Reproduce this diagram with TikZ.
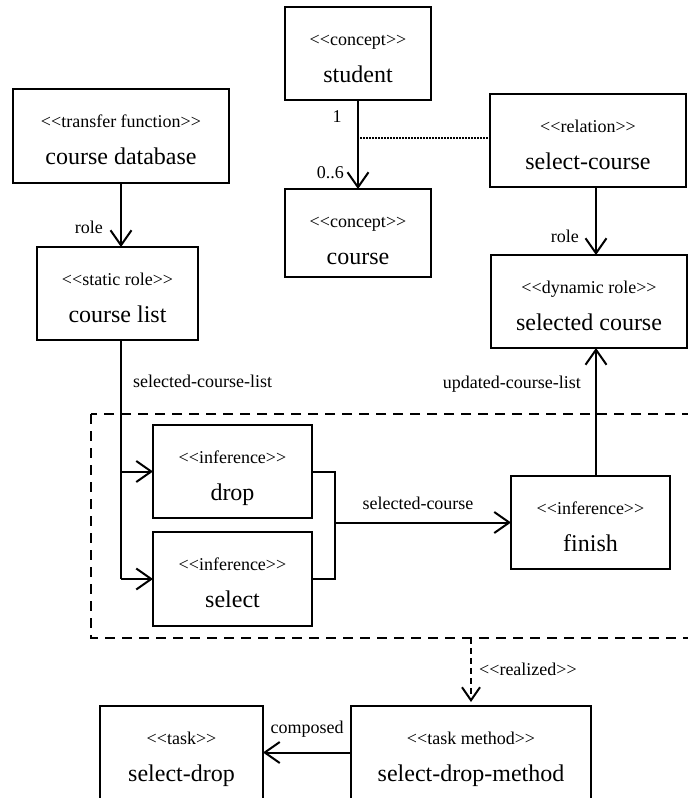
\documentclass[tikz,border=0pt]{standalone}
\usepackage{fontspec}
\setmainfont{Liberation Serif}
\usetikzlibrary{arrows.meta}

% guillemet-free stereotype brackets (kern breaks the << ligature mapping)
\newcommand{\stereotxt}[1]{<\kern0pt<#1>\kern0pt>}

\tikzset{
  umlbox/.style={draw, line width=2pt, rectangle, inner sep=0pt, outer sep=0pt},
  stereofont/.style={font=\fontsize{18}{20}\selectfont, inner sep=0pt},
  namefont/.style={font=\fontsize{24}{28}\selectfont, inner sep=0pt},
  lbl/.style={font=\fontsize{18}{20}\selectfont, inner sep=0pt},
  wire/.style={line width=2pt},
  conn/.style={line width=2pt, -{Straight Barb[length=15pt,width=21pt]}},
  dconn/.style={line width=2pt, dash pattern=on 6pt off 4pt,
                -{Straight Barb[length=13pt,width=18pt]}},
  dotwire/.style={line width=1.5pt, dash pattern=on 1.5pt off 1.5pt},
  dashbox/.style={line width=2pt, dash pattern=on 10pt off 7pt},
}

% \umlbox{name}{x1}{y1}{x2}{y2}{stereotype}{title}
\newcommand{\umlbox}[7]{%
  \node[umlbox, minimum width={(#4-#2)*1pt}, minimum height={(#5-#3)*1pt}]
    (#1) at ({(#2+#4)/2},{(#3+#5)/2}) {};
  \node[stereofont, anchor=base] (#1-st) at ({(#2+#4)/2},{#3+38}) {\stereotxt{#6}};
  \node[namefont, anchor=base] (#1-nm) at ({(#2+#4)/2},{#3+75}) {#7};
}

\begin{document}
\begin{tikzpicture}[x=1pt, y=-1pt]
  \path[use as bounding box] (0,0) rectangle (688,798);
  \fill[white] (0,0) rectangle (688,798);
  \begin{scope}
    \clip (0,0) rectangle (688,798);

    % boxes
    \umlbox{stu}{285}{7}{431}{100}{concept}{student}
    \umlbox{crs}{285}{189}{431}{277}{concept}{course}
    \umlbox{db}{13}{89}{229}{183}{transfer function}{course database}
    \umlbox{cl}{37}{247}{198}{340}{static role}{course list}
    \umlbox{rel}{490}{94}{686}{187}{relation}{select-course}
    \umlbox{selc}{491}{255}{687}{348}{dynamic role}{selected course}
    \umlbox{drop}{153}{425}{312}{518}{inference}{drop}
    \umlbox{sel}{153}{532}{312}{626}{inference}{select}
    \umlbox{fin}{511}{476}{670}{569}{inference}{finish}
    \umlbox{task}{100}{706}{263}{799}{task}{select-drop}
    \umlbox{tm}{351}{706}{591}{799}{task method}{select-drop-method}

    % grouping frame around the inferences (open to the right)
    \coordinate (gNW) at (91,414);
    \coordinate (gSE) at (720,638);
    \draw[dashbox] (gNW) rectangle (gSE);

    % helper columns / points
    \coordinate (colL) at (121,0);
    \coordinate (colR) at (596,0);
    \coordinate (dotL) at (360,138);
    \coordinate (brk) at (335,524);

    % connectors
    \draw[conn] (db.south -| colL) -- (cl.north -| colL);
    \draw[conn] (stu.south -| crs.north) -- (crs.north);
    \draw[dotwire] (dotL) -- (dotL -| rel.west);
    \draw[conn] (rel.south -| colR) -- (selc.north -| colR);

    \draw[wire] (cl.south -| colL) -- (colL |- sel.west);
    \draw[conn] (colL |- drop.west) -- (drop.west);
    \draw[conn] (colL |- sel.west) -- (sel.west);

    \draw[wire] (drop.east) -- (drop.east -| brk) -- (sel.east -| brk) -- (sel.east);
    \draw[conn] (fin.west -| brk) -- (fin.west);
    \draw[conn] (fin.north -| colR) -- (selc.south -| colR);

    \draw[dconn, shorten >=4pt] (tm.north |- gSE) -- (tm.north);
    \draw[conn] (tm.west) -- (tm.west -| task.east);

    % connector labels
    \node[lbl, anchor=base east] (lrole1) at (103,233) {role};
    \node[lbl, anchor=base east] (lrole2) at (579,242) {role};
    \node[lbl, anchor=base] (lone) at (337,122) {1};
    \node[lbl, anchor=base east] (lmany) at (344,178) {0..6};
    \node[lbl, anchor=base west] (lscl) at (133,387) {selected-course-list};
    \node[lbl, anchor=base east] (lucl) at (581,388) {updated-course-list};
    \node[lbl, anchor=base] (lsc) at (418,509) {selected-course};
    \node[lbl, anchor=base west] (lreal) at (479,675) {\stereotxt{realized}};
    \node[lbl, anchor=base] (lcomp) at (307,733) {composed};
  \end{scope}
\end{tikzpicture}
\end{document}
